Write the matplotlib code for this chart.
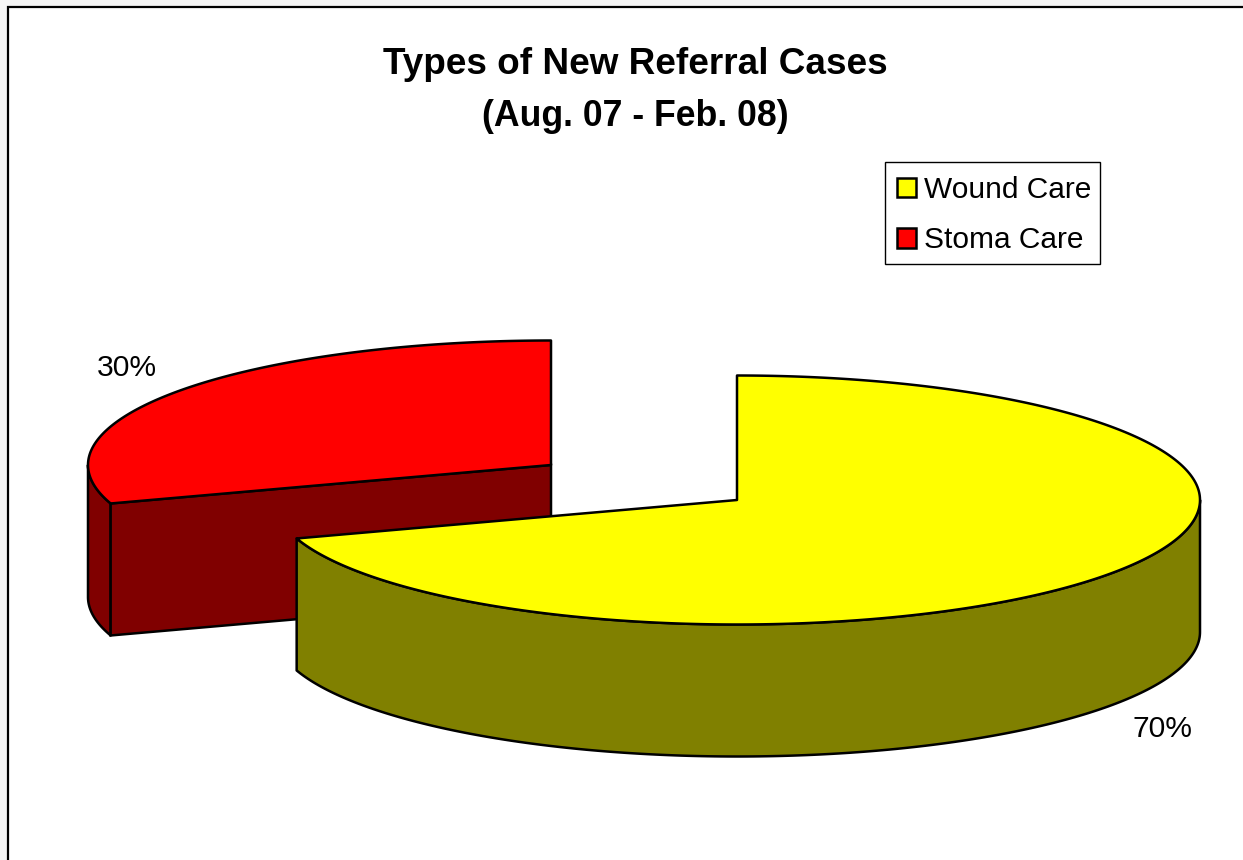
import numpy as np
import matplotlib
matplotlib.use("Agg")
import matplotlib.pyplot as plt
from matplotlib.patches import Polygon, Patch, Rectangle

plt.rcParams['font.family'] = ['Liberation Sans', 'DejaVu Sans']

title_lines = ["Types of New Referral Cases", "(Aug. 07 - Feb. 08)"]
labels = ["Wound Care", "Stoma Care"]
values = [70, 30]
top_colors = ["#ffff00", "#ff0000"]
side_colors = ["#808000", "#800000"]

# pie geometry in image pixels
centers = [(737, 500), (551, 465)]
rx = 463
ry = 124.5
depth = 132
label_pos = [(1163, 729), (127, 368)]


def pt(c, a, dy=0):
    # a is clockwise from 12 o'clock, radians
    return np.column_stack([c[0] + rx * np.sin(a), c[1] - ry * np.cos(a) + dy])


def draw_slice(ax, c, a0, a1, top, side, z):
    lw = 1.8
    # outer wall, front half only
    lo = max(a0, np.pi / 2)
    hi = min(a1, 3 * np.pi / 2)
    if hi > lo:
        arc = np.linspace(lo, hi, 200)
        wall = np.vstack([pt(c, arc), pt(c, arc[::-1], depth)])
        ax.add_patch(Polygon(wall, fc=side, ec="black", lw=lw, zorder=z, joinstyle="round"))
    # cut face at the start angle when it faces the viewer
    if np.pi < a0 < 2 * np.pi:
        e = pt(c, np.array([a0]))[0]
        face = [c, e, (e[0], e[1] + depth), (c[0], c[1] + depth)]
        ax.add_patch(Polygon(face, fc=side, ec="black", lw=lw, zorder=z))
    arc = np.linspace(a0, a1, 400)
    ax.add_patch(Polygon(np.vstack([[c], pt(c, arc)]), fc=top, ec="black", lw=lw, zorder=z + 0.5, joinstyle="round"))


fig = plt.figure(figsize=(12.43, 8.6), dpi=100, facecolor="#f5f5f5")
ax = fig.add_axes([0, 0, 1, 1])
ax.set_xlim(0, 1243)
ax.set_ylim(860, 0)
ax.axis("off")

ax.add_patch(Rectangle((8, 7), 1300, 900, fc="white", ec="black", lw=1.6, zorder=0))

ax.text(635, 64, title_lines[0], ha="center", va="center", fontsize=26.6, fontweight="bold", color="black")
ax.text(635.5, 116, title_lines[1], ha="center", va="center", fontsize=25.7, fontweight="bold", color="black")

fracs = np.array(values) / sum(values)
ends = np.cumsum(fracs) * 2 * np.pi
starts = ends - fracs * 2 * np.pi

# back slice first
draw_slice(ax, centers[1], starts[1], ends[1], top_colors[1], side_colors[1], 2)
draw_slice(ax, centers[0], starts[0], ends[0], top_colors[0], side_colors[0], 4)

for i in range(2):
    ax.text(label_pos[i][0], label_pos[i][1], "%d%%" % values[i], ha="center", va="center",
            fontsize=21.6, color="black", zorder=10)

ax.add_patch(Rectangle((885, 162), 215, 102, fc="white", ec="black", lw=1.0, zorder=9))
handles = [Patch(fc=top_colors[i], ec="black", lw=1.8) for i in range(2)]
leg = ax.legend(handles, labels, loc="upper left", bbox_to_anchor=(897 / 1243, 1 - 176 / 860),
                fontsize=21.5, frameon=False, handlelength=0.62, handleheight=0.62,
                handletextpad=0.27, labelspacing=0.75, borderpad=0, borderaxespad=0)
leg.set_zorder(11)

fig.savefig("out.png", dpi=100, facecolor=fig.get_facecolor())
